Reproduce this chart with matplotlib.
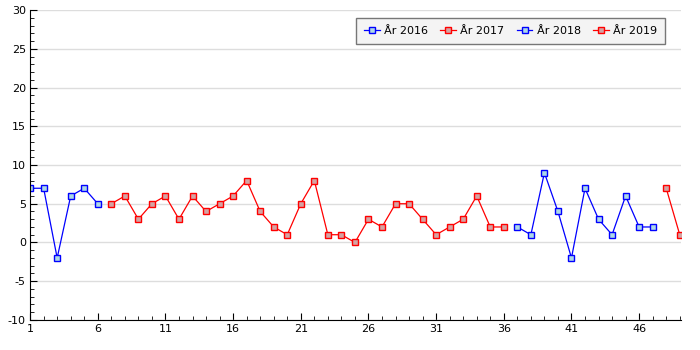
import matplotlib.pyplot as plt
from matplotlib.ticker import MultipleLocator

plt.rcParams['axes.unicode_minus'] = False

# Data per year (x = running index)
x_2016 = [1, 2, 3, 4, 5, 6]
y_2016 = [7, 7, -2, 6, 7, 5]

x_2017 = list(range(7, 37))
y_2017 = [5, 6, 3, 5, 6, 3, 6, 4, 5, 6, 8, 4, 2, 1, 5, 8, 1, 1, 0, 3,
          2, 5, 5, 3, 1, 2, 3, 6, 2, 2]

x_2018 = list(range(37, 48))
y_2018 = [2, 1, 9, 4, -2, 7, 3, 1, 6, 2, 2]

x_2019 = [48, 49]
y_2019 = [7, 1]

xticks = [1, 6, 11, 16, 21, 26, 31, 36, 41, 46]

fig = plt.figure(figsize=(7, 3.5), dpi=100)
ax = fig.add_axes([0.043, 0.086, 0.930, 0.885])

blue = dict(color='#0000ff', marker='s', markersize=5, markerfacecolor='#add8e6',
            markeredgecolor='#0000ff', markeredgewidth=1, linewidth=0.9)
red = dict(color='#ff0000', marker='s', markersize=5, markerfacecolor='#d4a3a3',
           markeredgecolor='#ff0000', markeredgewidth=1, linewidth=0.9)

ax.plot(x_2016, y_2016, label='År 2016', **blue)
ax.plot(x_2017, y_2017, label='År 2017', **red)
ax.plot(x_2018, y_2018, label='År 2018', **blue)
ax.plot(x_2019, y_2019, label='År 2019', **red)

ax.set_xlim(1, 49.1)
ax.set_ylim(-10, 30)
ax.set_xticks(xticks)
ax.xaxis.set_minor_locator(MultipleLocator(1))
ax.yaxis.set_major_locator(MultipleLocator(5))
ax.yaxis.set_minor_locator(MultipleLocator(1))
ax.tick_params(which='both', direction='in', labelsize=8, pad=3)
ax.tick_params(which='major', length=5)
ax.tick_params(which='minor', length=3)

ax.grid(axis='y', color='#dddddd', linewidth=1)
ax.set_axisbelow(True)
for s in ['top', 'right']:
    ax.spines[s].set_visible(False)

leg = ax.legend(loc='upper right', ncol=4, fontsize=8, frameon=True, fancybox=False,
                handlelength=1.4, columnspacing=1.1, handletextpad=0.4,
                bbox_to_anchor=(0.9754, 0.974), borderaxespad=0, borderpad=0.7)
leg.get_frame().set_facecolor('#f4f4f4')
leg.get_frame().set_edgecolor('#777777')
leg.get_frame().set_alpha(1)

fig.savefig('out.png')
